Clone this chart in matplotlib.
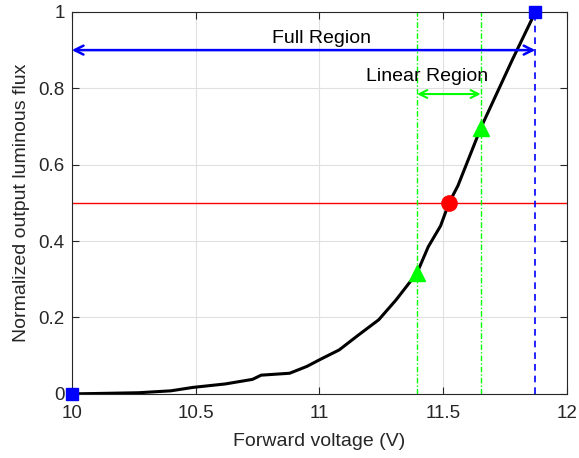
import numpy as np
import matplotlib
matplotlib.use('Agg')
import matplotlib.pyplot as plt

plt.rcParams['font.family'] = ['Liberation Sans', 'DejaVu Sans']

# Measured curve (forward voltage vs normalized flux)
voltage = [10.0, 10.1, 10.27, 10.4, 10.49, 10.62, 10.73, 10.765, 10.88, 10.95,
           11.0, 11.08, 11.16, 11.24, 11.31, 11.395, 11.44, 11.49, 11.524,
           11.56, 11.653, 11.78, 11.873]
flux = [0.0, 0.001, 0.003, 0.008, 0.017, 0.026, 0.038, 0.049, 0.054, 0.072,
        0.089, 0.115, 0.155, 0.194, 0.246, 0.317, 0.385, 0.44, 0.5,
        0.545, 0.697, 0.875, 1.0]

# Key points
full_v = [10.0, 11.873]
full_f = [0.0, 1.0]
linear_v = [11.395, 11.652]
linear_f = [0.317, 0.697]
mid_v = 11.524
mid_f = 0.5

full_arrow_y = 0.9
linear_arrow_y = 0.785

fig = plt.figure(figsize=(5.79, 4.58), dpi=100)
ax = fig.add_axes([0.124, 0.140, 0.855, 0.834])

txt = '#262626'

ax.grid(True, color='#e0e0e0', linewidth=0.8)
ax.set_axisbelow(True)

# horizontal half-flux line
ax.axhline(mid_f, color='red', linewidth=1.0, zorder=2)

# region boundary lines
for v in full_v:
    ax.axvline(v, color='blue', linestyle='--', linewidth=1.2, dashes=(4, 3), zorder=2)
for v in linear_v:
    ax.axvline(v, color='#00ff00', linewidth=1.0, dashes=(4, 1.5, 1, 1.5), zorder=2)

ax.plot(voltage, flux, color='black', linewidth=2.2, zorder=3)

ax.plot(full_v, full_f, 's', color='blue', markersize=9, clip_on=False, zorder=5)
ax.plot(linear_v, linear_f, '^', color='#00ff00', markersize=11, clip_on=False, zorder=5)
ax.plot([mid_v], [mid_f], 'o', color='red', markersize=11, zorder=5)

ax.annotate('', xy=(full_v[0], full_arrow_y), xytext=(full_v[1], full_arrow_y),
            arrowprops=dict(arrowstyle='<->', color='blue', lw=1.8,
                            mutation_scale=16, shrinkA=0, shrinkB=0), zorder=4)
ax.annotate('', xy=(linear_v[0], linear_arrow_y), xytext=(linear_v[1], linear_arrow_y),
            arrowprops=dict(arrowstyle='<->', color='#00ff00', lw=1.5,
                            mutation_scale=14, shrinkA=0, shrinkB=0), zorder=4)

ax.text(11.01, 0.93, 'Full Region', ha='center', va='center', fontsize=14, color='black')
ax.text(11.435, 0.832, 'Linear Region', ha='center', va='center', fontsize=14, color='black')

ax.set_xlim(10, 12)
ax.set_ylim(0, 1)
ax.set_xticks([10, 10.5, 11, 11.5, 12])
ax.set_xticklabels(['10', '10.5', '11', '11.5', '12'])
ax.set_yticks([0, 0.2, 0.4, 0.6, 0.8, 1])
ax.set_yticklabels(['0', '0.2', '0.4', '0.6', '0.8', '1'])
ax.tick_params(direction='in', top=True, right=True, labelsize=13.5, colors=txt,
               length=5, width=0.8)
ax.tick_params(axis='x', pad=8)
ax.tick_params(axis='y', pad=5)
for s in ax.spines.values():
    s.set_color(txt)
    s.set_linewidth(0.8)

ax.set_xlabel('Forward voltage (V)', fontsize=14, color=txt, labelpad=8)
ax.set_ylabel('Normalized output luminous flux', fontsize=14, color=txt, labelpad=6)

fig.savefig('out.png', dpi=100)
